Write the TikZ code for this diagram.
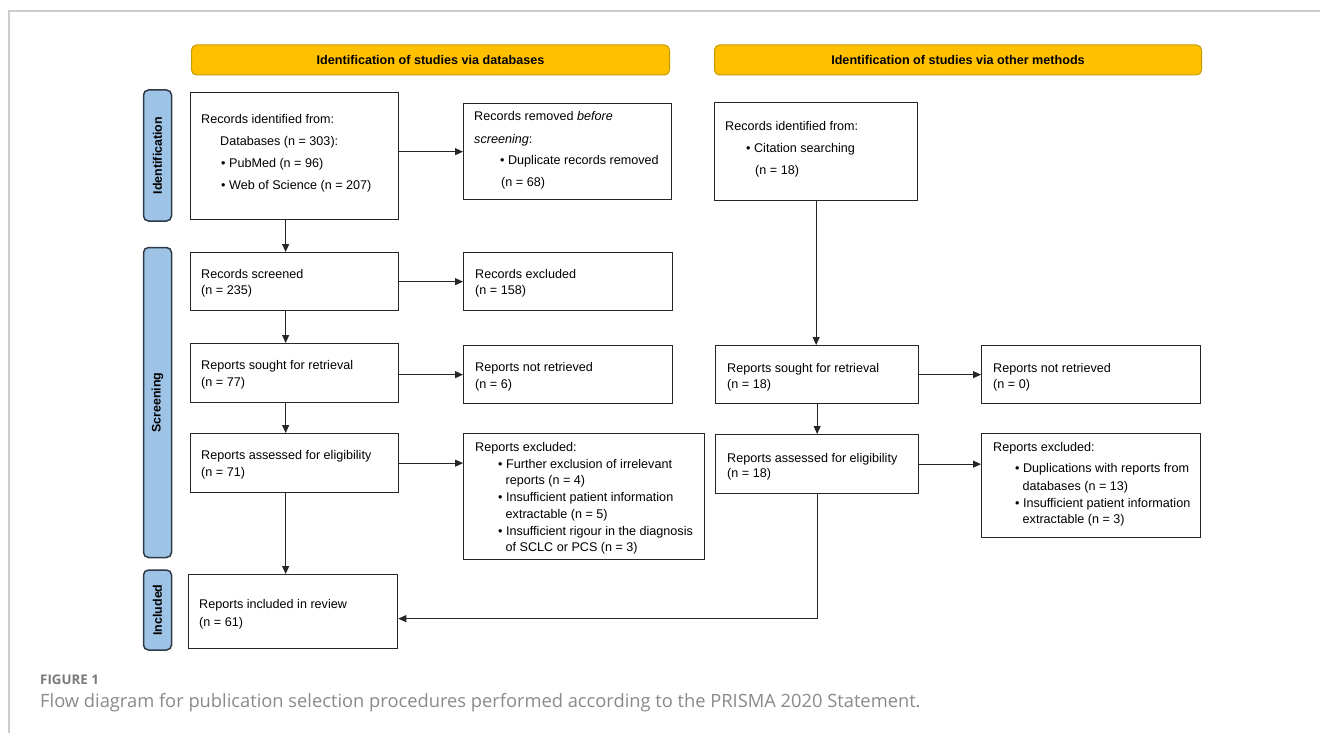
\documentclass[tikz,border=0pt]{standalone}
\usepackage{fontspec}
\setmainfont{Liberation Sans}
\newfontfamily\capfont{Open Sans}
\usetikzlibrary{arrows.meta}
\definecolor{hdr}{HTML}{FFC000}
\definecolor{hdrb}{HTML}{C49A00}
\definecolor{side}{HTML}{9DC3E6}
\definecolor{sideb}{HTML}{2E3A46}
\definecolor{capg}{HTML}{8A8A8A}
\definecolor{figg}{HTML}{7A7A7A}
\definecolor{frameg}{HTML}{CCCCCC}
\definecolor{ln}{HTML}{262626}
\newcommand\fs{\fontsize{12.6}{15}\selectfont}
\newcommand\pbox[5]{\node[box, anchor=north west, minimum width=#4, minimum height=#5] (#1) at (#2,#3) {};}
\newcommand\tl[4]{\node[txt] (#1) at (#2,#3) {#4};}
\begin{document}
\begin{tikzpicture}[x=1pt,y=-1pt,
  box/.style={draw=ln, line width=1.3pt, rectangle, inner sep=0pt, fill=white},
  txt/.style={anchor=base west, inner sep=0pt, font=\fs, text=black},
  hdrbox/.style={draw=hdrb, fill=hdr, line width=1pt, rounded corners=5pt, inner sep=0pt, font=\bfseries\fontsize{12.6}{14}\selectfont},
  sidebar/.style={draw=sideb, fill=side, line width=1.5pt, rounded corners=5pt, inner sep=0pt, rotate=90, minimum height=28, font=\bfseries\fontsize{12.4}{14}\selectfont},
  arr/.style={draw=ln, line width=1pt, -{Triangle[length=8pt,width=7pt]}}]
\useasboundingbox (0,0) rectangle (1320,733);
\fill[white] (0,0) rectangle (1320,733);
\draw[frameg, line width=1.3] (9,733) -- (9,11) -- (1320,11);

% headers
\node[hdrbox, anchor=north west, minimum width=478, minimum height=30] (h1) at (191,44.5) {Identification of studies via databases};
\node[hdrbox, anchor=north west, minimum width=487, minimum height=30] (h2) at (714,44.5) {Identification of studies via other methods};

% side bars
\node[sidebar, minimum width=131] (s1) at (157.5,155.5) {Identification};
\node[sidebar, minimum width=310] (s2) at (157.5,402.5) {Screening};
\node[sidebar, minimum width=80] (s3) at (157.5,610) {Included};

% boxes
\pbox{b1}{190}{92}{208}{127}
\pbox{rem}{463}{103}{208}{96}
\pbox{ri}{714}{102}{203}{98}
\pbox{scr}{190}{252}{208}{58}
\pbox{exc}{463}{252}{209}{58}
\pbox{sou}{190}{343}{208}{59}
\pbox{nre}{463}{345}{209}{58}
\pbox{ass}{190}{433}{208}{59}
\pbox{exl}{463}{433}{241}{126}
\pbox{inc}{188}{574}{209}{74}
\pbox{rso}{715}{345}{203}{58}
\pbox{rnr}{981}{345}{219}{58}
\pbox{ras}{715}{434}{203}{59}
\pbox{rex}{981}{433}{219}{104}

% texts
\tl{t1a}{201}{123.5}{Records identified from:}
\tl{t1b}{220}{146}{Databases (n = 303):}
\tl{t1c}{221}{167.5}{\textbullet\ PubMed (n = 96)}
\tl{t1d}{221}{189.5}{\textbullet\ Web of Science (n = 207)}

\tl{t2a}{474}{121}{Records removed \textit{before}}
\tl{t2b}{474}{143}{\textit{screening}:}
\tl{t2c}{500}{164.5}{\textbullet\ Duplicate records removed}
\tl{t2d}{501}{186}{(n = 68)}

\tl{t3a}{725}{131}{Records identified from:}
\tl{t3b}{746}{152.5}{\textbullet\ Citation searching}
\tl{t3c}{755}{174.5}{(n = 18)}

\tl{t4a}{201}{278}{Records screened}
\tl{t4b}{201}{294}{(n = 235)}
\tl{t5a}{475}{278}{Records excluded}
\tl{t5b}{475}{294}{(n = 158)}

\tl{t6a}{201}{369.5}{Reports sought for retrieval}
\tl{t6b}{201}{386}{(n = 77)}
\tl{t7a}{475}{371.5}{Reports not retrieved}
\tl{t7b}{475}{388}{(n = 6)}

\tl{t8a}{201}{459.5}{Reports assessed for eligibility}
\tl{t8b}{201}{476}{(n = 71)}

\tl{t9a}{475}{451.5}{Reports excluded:}
\tl{t9b}{498}{468}{\textbullet\ Further exclusion of irrelevant}
\tl{t9c}{505.5}{484.5}{reports (n = 4)}
\tl{t9d}{498}{501.5}{\textbullet\ Insufficient patient information}
\tl{t9e}{505.5}{518.5}{extractable (n = 5)}
\tl{t9f}{498}{535}{\textbullet\ Insufficient rigour in the diagnosis}
\tl{t9g}{505.5}{551.5}{of SCLC or PCS (n = 3)}

\tl{t10a}{199}{608}{Reports included in review}
\tl{t10b}{199}{626}{(n = 61)}

\tl{t11a}{727}{372.5}{Reports sought for retrieval}
\tl{t11b}{727}{388}{(n = 18)}
\tl{t12a}{993}{372.5}{Reports not retrieved}
\tl{t12b}{993}{388}{(n = 0)}

\tl{t13a}{727}{462}{Reports assessed for eligibility}
\tl{t13b}{727}{477.5}{(n = 18)}

\tl{t14a}{993}{451.5}{Reports excluded:}
\tl{t14b}{1015}{472}{\textbullet\ Duplications with reports from}
\tl{t14c}{1022.5}{490}{databases (n = 13)}
\tl{t14d}{1015}{507}{\textbullet\ Insufficient patient information}
\tl{t14e}{1022.5}{523.5}{extractable (n = 3)}

% connectors
\draw[arr] ([xshift=-9pt]b1.south) -- ([xshift=-9pt]b1.south |- scr.north);
\draw[arr] (b1.east |- rem.west) -- (rem.west);
\draw[arr] (scr.east) -- (exc.west);
\draw[arr] ([xshift=-9pt]scr.south) -- ([xshift=-9pt]scr.south |- sou.north);
\draw[arr] (sou.east |- nre.west) -- (nre.west);
\draw[arr] ([xshift=-9pt]sou.south) -- ([xshift=-9pt]sou.south |- ass.north);
\draw[arr] (ass.east) -- (ass.east -| exl.west);
\draw[arr] ([xshift=-9pt]ass.south) -- ([xshift=-9pt]ass.south |- inc.north);
\draw[arr] (ri.south) -- (ri.south |- rso.north);
\draw[arr] (rso.east) -- (rnr.west);
\draw[arr] (rso.south) -- (ras.north);
\draw[arr] (ras.east) -- (ras.east -| rex.west);
\coordinate (cr) at ([yshift=-7pt]ras.south |- inc.east);
\draw[arr] (ras.south) -- (cr) -- (cr -| inc.east);

% caption
\node[anchor=base west, inner sep=0pt, font=\capfont\bfseries\fontsize{13.3}{14}\selectfont, text=figg] (figlbl) at (40,684) {FIGURE 1};
\node[anchor=base west, inner sep=0pt, font=\capfont\fontsize{18.3}{19}\selectfont, text=capg] (cap) at (40,707) {Flow diagram for publication selection procedures performed according to the PRISMA 2020 Statement.};
\end{tikzpicture}
\end{document}
